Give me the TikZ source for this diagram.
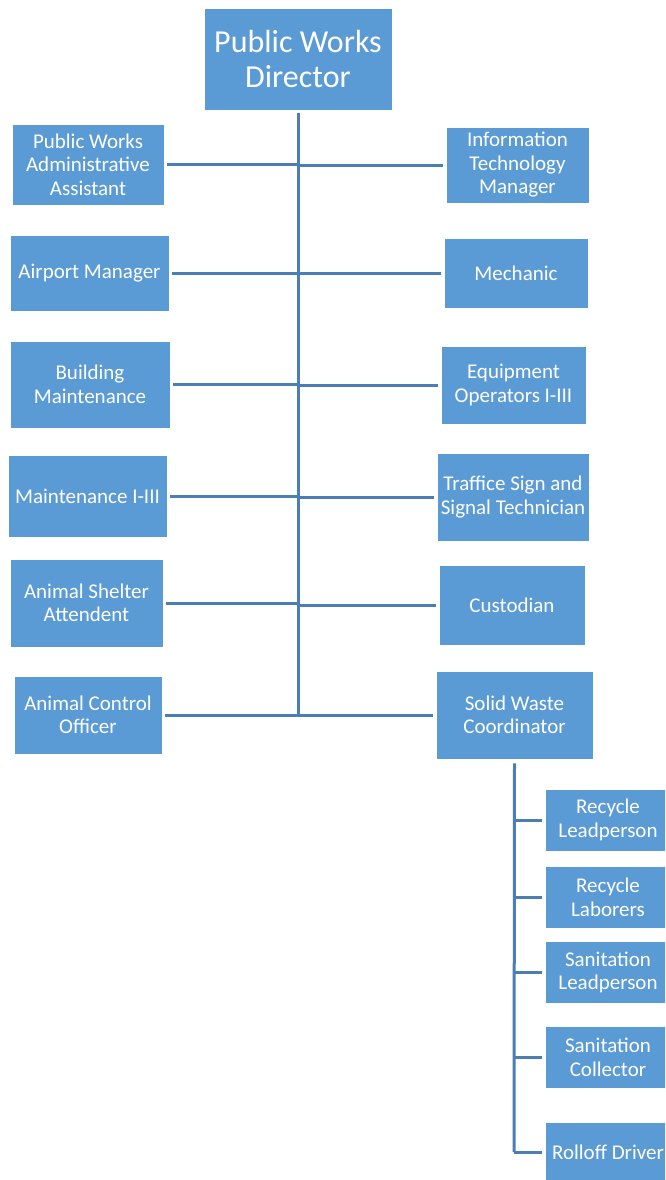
\documentclass[tikz,border=0pt]{standalone}
\usepackage{fontspec}
\setmainfont{Carlito}
\definecolor{boxblue}{HTML}{5B9BD5}
\definecolor{lineblue}{HTML}{4A7EB5}
\begin{document}
\begin{tikzpicture}[x=1pt,y=-1pt,
  box/.style={fill=boxblue, draw=white, line width=0.6pt, text=white, align=center,
    inner sep=0pt, font=\fontsize{21}{23.5}\selectfont},
  link/.style={draw=lineblue, line width=3pt}]
\clip (0,0) rectangle (665,1180);
\fill[white] (0,0) rectangle (665,1180);

% director
\node[box, minimum width=188pt, minimum height=102pt, font=\fontsize{32}{35}\selectfont]
  (dir) at (298,59) {Public Works\\Director};

% left column
\node[box, minimum width=152pt, minimum height=81pt] (pwa) at (88,164.5) {Public Works\\Administrative\\Assistant};
\node[box, minimum width=159pt, minimum height=76pt] (apm) at (89.5,273) {Airport Manager};
\node[box, minimum width=160pt, minimum height=87pt] (bm)  at (90,384.5) {Building\\Maintenance};
\node[box, minimum width=159pt, minimum height=82pt] (mnt) at (87.5,496) {Maintenance I-III};
\node[box, minimum width=153pt, minimum height=88pt] (asa) at (86.5,603) {Animal Shelter\\Attendent};
\node[box, minimum width=148pt, minimum height=78pt] (aco) at (88,715) {Animal Control\\Officer};

% right column
\node[box, minimum width=143pt, minimum height=76pt] (itm) at (517.5,165) {Information\\Technology\\Manager};
\node[box, minimum width=144pt, minimum height=70pt] (mec) at (516,273) {Mechanic};
\node[box, minimum width=145pt, minimum height=78pt] (eqo) at (513.5,385) {Equipment\\Operators I-III};
\node[box, minimum width=152pt, minimum height=88pt] (tss) at (513,497) {Traffice Sign and\\Signal Technician};
\node[box, minimum width=146pt, minimum height=80pt] (cus) at (512,605) {Custodian};
\node[box, minimum width=157pt, minimum height=88pt] (swc) at (514.5,715) {Solid Waste\\Coordinator};

% solid waste crews
\node[box, minimum width=126pt, minimum height=62pt] (rlp) at (608,820) {Recycle\\Leadperson};
\node[box, minimum width=126pt, minimum height=62pt] (rlb) at (608,897.5) {Recycle\\Laborers};
\node[box, minimum width=126pt, minimum height=62pt] (slp) at (608,972.5) {Sanitation\\Leadperson};
\node[box, minimum width=126pt, minimum height=62pt] (scl) at (608,1057.5) {Sanitation\\Collector};
\node[box, minimum width=126pt, minimum height=60pt] (rod) at (608,1152) {Rolloff Driver};

% main trunk
\coordinate (tbot) at (298,715);
\draw[link] ([yshift=-3pt]dir.south) -- (tbot);
\foreach \n in {pwa,apm,bm,mnt,asa,aco}
  \draw[link] ([xshift=3pt]\n.east) -- (\n.east -| dir.south);
\foreach \n in {itm,mec,eqo,tss,cus,swc}
  \draw[link] (\n.west -| dir.south) -- ([xshift=-3pt]\n.west);

% solid waste trunk
\coordinate (sbot) at (514,1152);
\draw[link] ([yshift=-4pt]swc.south) -- (sbot);
\foreach \n in {rlp,rlb,slp,scl,rod}
  \draw[link] (\n.west -| sbot) -- ([xshift=-3pt]\n.west);
\end{tikzpicture}
\end{document}
